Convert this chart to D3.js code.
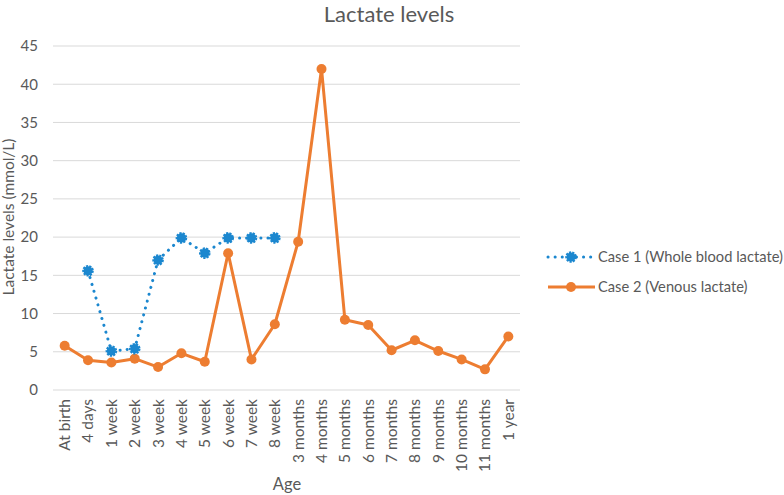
<!DOCTYPE html>
<html><head><meta charset="utf-8">
<script src="https://cdn.jsdelivr.net/npm/d3@7"></script>
<style>body{margin:0;background:#fff}text{font-family:Lato,"Open Sans",sans-serif;fill:#595959}</style>
</head><body><svg id="c" width="784" height="495"></svg>
<script>
const categories = ["At birth","4 days","1 week","2 week","3 week","4 week","5 week","6 week","7 week","8 week","3 months","4 months","5 months","6 months","7 months","8 months","9 months","10 months","11 months","1 year"];
const case1 = [null,15.6,5.1,5.4,17.0,19.9,17.9,19.9,19.9,19.9,null,null,null,null,null,null,null,null,null,null];
const case2 = [5.8,3.9,3.6,4.1,3.0,4.8,3.7,17.9,4.0,8.6,19.4,42.0,9.2,8.5,5.2,6.5,5.1,4.0,2.7,7.0];
const yTicks = [0,5,10,15,20,25,30,35,40,45];
const seriesNames = ["Case 1 (Whole blood lactate)","Case 2 (Venous lactate)"];
const blue = "#1B87CF", orange = "#ED7D31";

const svg = d3.select("#c");
const L = 53, R = 520, T = 46, B = 390;
const x = d3.scaleBand().domain(categories).range([L, R]);
const y = d3.scaleLinear().domain([0,45]).range([B, T]);

// gridlines
svg.append("g").selectAll("line").data(yTicks).join("line")
  .attr("x1", L).attr("x2", R).attr("y1", d=>y(d)).attr("y2", d=>y(d))
  .attr("stroke", "#d9d9d9").attr("stroke-width", 1);

// y tick labels
const ya = svg.append("g").attr("transform", `translate(${L},0)`)
  .call(d3.axisLeft(y).tickValues(yTicks).tickSize(0).tickPadding(15));
ya.select(".domain").remove();
ya.selectAll("text").style("font-size","15px").style("font-family","Lato,'Open Sans',sans-serif").attr("fill","#595959");

// x tick labels
const xa = svg.append("g").attr("transform", `translate(0,${B})`)
  .call(d3.axisBottom(x).tickSize(0));
xa.select(".domain").remove();
xa.selectAll("text").style("font-size","15.5px").style("font-family","Lato,'Open Sans',sans-serif").attr("fill","#595959")
  .attr("transform","rotate(-90)").attr("text-anchor","end").attr("x",-9).attr("y",0).attr("dy","0.35em");

const cx = i => x(categories[i]) + x.bandwidth()/2;

// case 2 line
const line2 = d3.line().defined(d=>d!=null).x((d,i)=>cx(i)).y(d=>y(d));
svg.append("path").datum(case2).attr("d", line2).attr("fill","none")
  .attr("stroke", orange).attr("stroke-width", 3).attr("stroke-linejoin","round");
svg.append("g").selectAll("circle").data(case2.map((v,i)=>({v,i})).filter(d=>d.v!=null)).join("circle")
  .attr("cx", d=>cx(d.i)).attr("cy", d=>y(d.v)).attr("r", 5).attr("fill", orange);

// case 1 line
svg.append("path").datum(case1).attr("d", line2).attr("fill","none")
  .attr("stroke", blue).attr("stroke-width", 3).attr("stroke-dasharray","0.1 7").attr("stroke-linecap","round");
const m1 = svg.append("g").selectAll("g").data(case1.map((v,i)=>({v,i})).filter(d=>d.v!=null)).join("g")
  .attr("transform", d=>`translate(${cx(d.i)},${y(d.v)})`);
m1.append("circle").attr("r",4.6).attr("fill",blue);
m1.append("circle").attr("r",4.9).attr("fill","none").attr("stroke",blue).attr("stroke-width",1.8)
  .attr("stroke-dasharray","2.2 1.2");

// title
svg.append("text").attr("x", 389).attr("y", 22).attr("text-anchor","middle")
  .style("font-size","22px").text("Lactate levels");
// axis titles
svg.append("text").attr("transform","translate(14,217) rotate(-90)").attr("text-anchor","middle")
  .style("font-size","15.5px").text("Lactate levels (mmol/L)");
svg.append("text").attr("x", 287).attr("y", 490).attr("text-anchor","middle")
  .style("font-size","16.5px").text("Age");

// legend
const lg = svg.append("g");
lg.append("line").attr("x1",548).attr("x2",592).attr("y1",257).attr("y2",257)
  .attr("stroke",blue).attr("stroke-width",3).attr("stroke-dasharray","0.1 7").attr("stroke-linecap","round");
lg.append("circle").attr("cx",571).attr("cy",257).attr("r",4.6).attr("fill",blue);
lg.append("circle").attr("cx",571).attr("cy",257).attr("r",4.9).attr("fill","none").attr("stroke",blue).attr("stroke-width",1.8).attr("stroke-dasharray","2.2 1.2");
lg.append("line").attr("x1",548).attr("x2",595).attr("y1",287).attr("y2",287)
  .attr("stroke",orange).attr("stroke-width",3);
lg.append("circle").attr("cx",571).attr("cy",287).attr("r",5).attr("fill",orange);
lg.selectAll("text.l").data(seriesNames).join("text").attr("class","l")
  .attr("x",598).attr("y",(d,i)=>257+i*30).attr("dy","0.35em").style("font-size","14.7px").text(d=>d);
</script></body></html>
